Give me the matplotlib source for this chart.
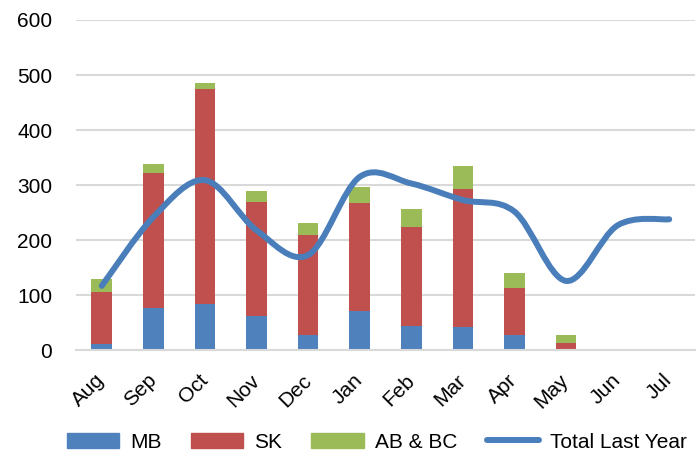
import matplotlib
matplotlib.use('Agg')
import matplotlib.pyplot as plt
import matplotlib.transforms as mtransforms
from matplotlib.path import Path
from matplotlib.patches import PathPatch, Patch
from matplotlib.lines import Line2D
import numpy as np

plt.rcParams['font.family'] = ['Liberation Sans', 'DejaVu Sans']

months = ['Aug', 'Sep', 'Oct', 'Nov', 'Dec', 'Jan', 'Feb', 'Mar', 'Apr', 'May', 'Jun', 'Jul']
mb = [11, 77, 84, 62, 28, 71, 45, 42, 27, 0, 0, 0]
sk = [94, 245, 390, 208, 182, 196, 179, 251, 86, 13, 0, 0]
ab_bc = [24, 17, 12, 20, 21, 30, 32, 41, 27, 15, 0, 0]
total_last_year = [117, 242, 309, 218, 173, 315, 303, 273, 252, 126, 227, 238]

c_mb = '#4F81BD'
c_sk = '#C0504D'
c_ab = '#9BBB59'
c_line = '#4A7EBB'
grid_c = '#D9D9D9'

fig = plt.figure(figsize=(6.99, 4.54), dpi=100)
ax = fig.add_axes([0.1087, 0.2284, 0.8856, 0.7276])

x = np.arange(len(months))
mb_a = np.array(mb)
sk_a = np.array(sk)
ab_a = np.array(ab_bc)
w = 0.4
ax.bar(x, mb_a, w, color=c_mb, zorder=2)
ax.bar(x, sk_a, w, bottom=mb_a, color=c_sk, zorder=2)
ax.bar(x, ab_a, w, bottom=mb_a + sk_a, color=c_ab, zorder=2)

# smoothed line, excel style bezier
y = np.array(total_last_year, dtype=float)
pts = np.column_stack([x, y])
verts = [pts[0]]
codes = [Path.MOVETO]
n = len(pts)
for i in range(n - 1):
    p0 = pts[max(i - 1, 0)]
    p1 = pts[i]
    p2 = pts[i + 1]
    p3 = pts[min(i + 2, n - 1)]
    verts += [p1 + (p2 - p0) / 6.0, p2 - (p3 - p1) / 6.0, p2]
    codes += [Path.CURVE4] * 3
ax.add_patch(PathPatch(Path(verts, codes), fill=False, edgecolor=c_line,
                       lw=4.3, capstyle='round', joinstyle='round', zorder=3))

ax.set_xlim(-0.5, len(months) - 0.5)
ax.set_ylim(0, 600)
ax.set_yticks(range(0, 601, 100))
ax.yaxis.grid(True, color=grid_c, lw=1.5, zorder=0)
for s in ['top', 'right', 'left']:
    ax.spines[s].set_visible(False)
ax.spines['bottom'].set_color(grid_c)
ax.spines['bottom'].set_linewidth(1.5)
ax.tick_params(axis='both', length=0, labelsize=15)
ax.tick_params(axis='y', pad=17)
ax.set_xticks(x)
ax.set_xticklabels(months, rotation=45, ha='right', va='center', rotation_mode='anchor')
offset = mtransforms.ScaledTranslation(0 / 72, -16 / 72, fig.dpi_scale_trans)
for lab in ax.get_xticklabels():
    lab.set_transform(lab.get_transform() + offset)

handles = [Patch(color=c_mb), Patch(color=c_sk), Patch(color=c_ab),
           Line2D([], [], color=c_line, lw=4.3, solid_capstyle='round')]
fig.legend(handles, ['MB', 'SK', 'AB & BC', 'Total Last Year'], loc='center',
           bbox_to_anchor=(0.539, 0.026), ncol=4, frameon=False, fontsize=15,
           handlelength=2.5, handletextpad=0.55, columnspacing=1.4)

fig.savefig('out.png', dpi=100)
